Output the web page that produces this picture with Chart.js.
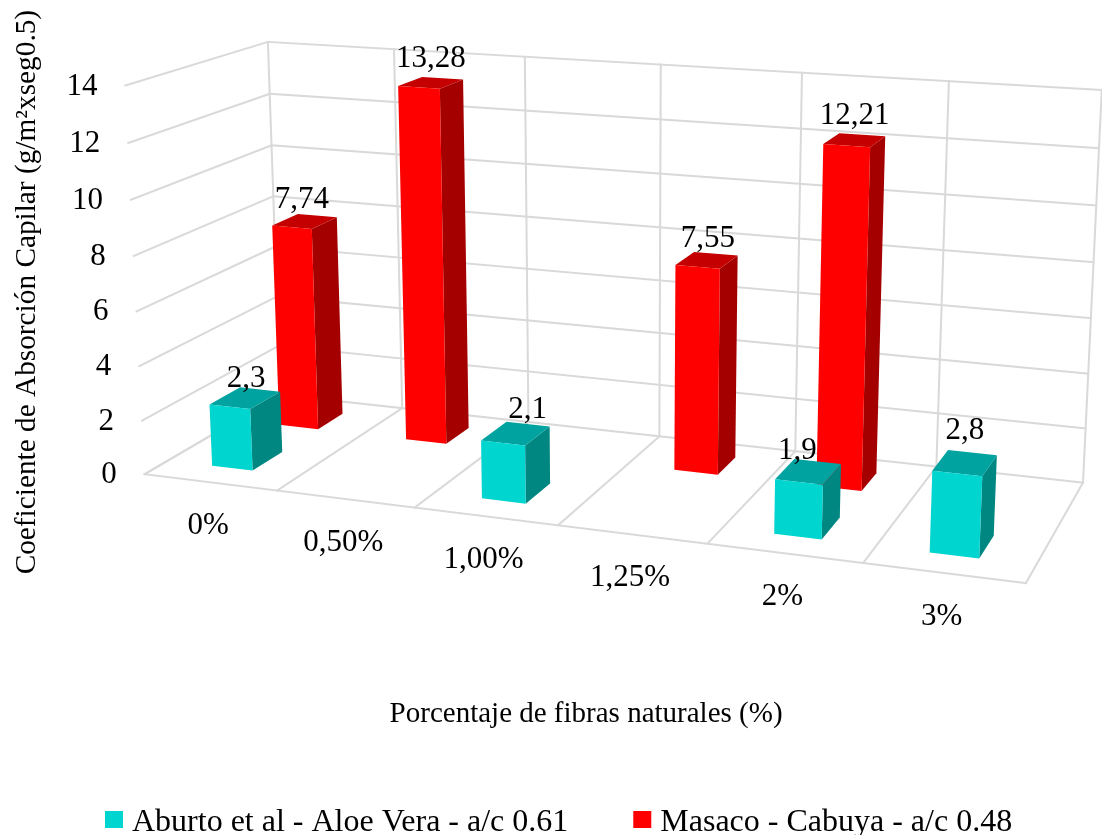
<!DOCTYPE html>
<html>
<head>
<meta charset="utf-8">
<title>Coeficiente de Absorción Capilar</title>
<script src="https://cdn.jsdelivr.net/npm/chart.js"></script>
<style>
  html, body { margin: 0; padding: 0; background: #fff; }
  #wrap { width: 1102px; height: 835px; }
</style>
</head>
<body>
<div id="wrap"><canvas id="absorcionChart"></canvas></div>
<script>
const categorias = ['0%', '0,50%', '1,00%', '1,25%', '2%', '3%'];
const aloeVera = [2.3, null, 2.1, null, 1.9, 2.8];
const cabuya = [7.74, 13.28, null, 7.55, 12.21, null];

const FONT = '"Liberation Serif", "Times New Roman", serif';
const GRID = '#D9D9D9';

// 3D box: corners of the walls on the page, [x, y, z, px, py]
// x left->right, y 0->14, z front->back (all 0..1)
const boxCorners = [
    [0, 0, 0, 145, 474],
    [1, 0, 0, 1026, 583],
    [1, 0, 1, 1083, 482.7],
    [0, 0, 1, 280, 395],
    [0, 1, 0, 125, 85.7],
    [0, 1, 1, 268.3, 41.7],
    [1, 1, 1, 1101.7, 90]
];

// where each series sits inside its cell
const rows = [
    { z0: 0.16, z1: 0.38, x0: 0.34, x1: 0.65, front: '#00D5D0', side: '#008782', top: '#00A39F' },
    { z0: 0.66, z1: 0.86, x0: 0.34, x1: 0.65, front: '#FF0000', side: '#A50000', top: '#C40000' }
];

// data labels moved by hand in the original, [dx, dy] by series and category
const labelShift = {
    '0-0': [1, 5],
    '0-2': [12, 0],
    '0-4': [-11, 3],
    '0-5': [0, -8],
    '1-0': [-3, 2],
    '1-3': [1, 3]
};

function solveProjection(points) {
    // least squares fit of the 3x4 camera matrix
    const n = 11;
    const A = [];
    for (let i = 0; i < n; i++) A.push(new Array(n + 1).fill(0));
    function addRow(r, b) {
        for (let i = 0; i < n; i++) {
            for (let j = 0; j < n; j++) A[i][j] += r[i] * r[j];
            A[i][n] += r[i] * b;
        }
    }
    points.forEach(function (p) {
        const X = p[0], Y = p[1], Z = p[2], u = p[3] / 1000, v = p[4] / 1000;
        addRow([X, Y, Z, 1, 0, 0, 0, 0, -u * X, -u * Y, -u * Z], u);
        addRow([0, 0, 0, 0, X, Y, Z, 1, -v * X, -v * Y, -v * Z], v);
    });
    for (let c = 0; c < n; c++) {
        let best = c;
        for (let r = c + 1; r < n; r++) if (Math.abs(A[r][c]) > Math.abs(A[best][c])) best = r;
        const tmp = A[c]; A[c] = A[best]; A[best] = tmp;
        for (let r = 0; r < n; r++) {
            if (r === c) continue;
            const f = A[r][c] / A[c][c];
            for (let k = c; k <= n; k++) A[r][k] -= f * A[c][k];
        }
    }
    return A.map(function (row, i) { return row[n] / row[i]; });
}

const M = solveProjection(boxCorners);

function project(x, y, z) {
    const w = M[8] * x + M[9] * y + M[10] * z + 1;
    return {
        x: 1000 * (M[0] * x + M[1] * y + M[2] * z + M[3]) / w,
        y: 1000 * (M[4] * x + M[5] * y + M[6] * z + M[7]) / w
    };
}

// scale pixels -> 0..1 box coordinates
function normY(chart, value) {
    const s = chart.scales.y;
    return (s.bottom - s.getPixelForValue(value)) / (s.bottom - s.top);
}
function normX(chart, index) {
    const s = chart.scales.x;
    return (s.getPixelForValue(index) - s.left) / (s.right - s.left);
}

function line(ctx, a, b) {
    ctx.beginPath();
    ctx.moveTo(a.x, a.y);
    ctx.lineTo(b.x, b.y);
    ctx.stroke();
}

function face(ctx, pts, color) {
    ctx.fillStyle = color;
    ctx.beginPath();
    pts.forEach(function (p, i) {
        if (i === 0) ctx.moveTo(p.x, p.y); else ctx.lineTo(p.x, p.y);
    });
    ctx.closePath();
    ctx.fill();
}

const plano3d = {
    id: 'plano3d',
    beforeDatasetsDraw(chart) {
        const ctx = chart.ctx;
        const cell = 1 / categorias.length;
        ctx.save();
        ctx.strokeStyle = GRID;
        ctx.lineWidth = 2;
        ctx.lineCap = 'square';
        chart.scales.y.ticks.forEach(function (t) {
            const y = normY(chart, t.value);
            line(ctx, project(0, y, 0), project(0, y, 1));
            line(ctx, project(0, y, 1), project(1, y, 1));
        });
        categorias.forEach(function (c, i) {
            const x = normX(chart, i) - cell / 2;
            line(ctx, project(x, 0, 0), project(x, 0, 1));
            line(ctx, project(x, 0, 1), project(x, 1, 1));
        });
        line(ctx, project(1, 0, 0), project(1, 0, 1));
        line(ctx, project(1, 0, 1), project(1, 1, 1));
        line(ctx, project(0, 0, 0), project(1, 0, 0));
        ctx.restore();
    },
    beforeDatasetDraw(chart, args) {
        // bars are drawn as boxes, not with the flat element
        const ctx = chart.ctx;
        const cell = 1 / categorias.length;
        const row = rows[args.index];
        chart.data.datasets[args.index].data.forEach(function (value, i) {
            if (value === null) return;
            const left = normX(chart, i) - cell / 2;
            const x0 = left + row.x0 * cell, x1 = left + row.x1 * cell;
            const y = normY(chart, value);
            const z0 = row.z0, z1 = row.z1;
            face(ctx, [project(x1, 0, z0), project(x1, 0, z1), project(x1, y, z1), project(x1, y, z0)], row.side);
            face(ctx, [project(x0, y, z0), project(x1, y, z0), project(x1, y, z1), project(x0, y, z1)], row.top);
            face(ctx, [project(x0, 0, z0), project(x1, 0, z0), project(x1, y, z0), project(x0, y, z0)], row.front);
        });
        return false;
    },
    afterDatasetsDraw(chart) {
        const ctx = chart.ctx;
        const cell = 1 / categorias.length;
        ctx.save();
        ctx.fillStyle = '#000';
        ctx.font = '31px ' + FONT;
        ctx.textBaseline = 'middle';

        // value axis labels
        ctx.textAlign = 'right';
        chart.scales.y.ticks.forEach(function (t) {
            const p = project(0, normY(chart, t.value), 0);
            ctx.fillText(t.label, p.x - 28, p.y + 1);
        });

        // category labels under the front edge
        ctx.textAlign = 'center';
        categorias.forEach(function (c, i) {
            const p = project(normX(chart, i), 0, 0);
            ctx.fillText(c, p.x - 2, p.y + 43.5);
        });

        // data labels
        chart.data.datasets.forEach(function (ds, d) {
            const row = rows[d];
            ds.data.forEach(function (value, i) {
                if (value === null) return;
                const left = normX(chart, i) - cell / 2;
                const p = project(left + (row.x0 + row.x1) / 2 * cell, normY(chart, value), (row.z0 + row.z1) / 2);
                const s = labelShift[d + '-' + i] || [0, 0];
                ctx.fillText(String(value).replace('.', ','), p.x + s[0], p.y - 24 + s[1]);
            });
        });

        // legend, the built in one can't get this tight box to text gap
        ctx.textAlign = 'left';
        ctx.font = '32px ' + FONT;
        let lx = 105;
        chart.data.datasets.forEach(function (ds) {
            ctx.fillStyle = ds.backgroundColor;
            ctx.fillRect(lx, 811, 18, 17);
            ctx.fillStyle = '#000';
            ctx.fillText(ds.label, lx + 27, 823);
            lx += 27 + ctx.measureText(ds.label).width + 65;
        });
        ctx.restore();
    }
};

const chartData = {
    labels: categorias,
    datasets: [
        { label: 'Aburto et al - Aloe Vera - a/c 0.61', data: aloeVera, backgroundColor: '#00D5D0' },
        { label: 'Masaco - Cabuya - a/c 0.48', data: cabuya, backgroundColor: '#FF0000' }
    ]
};

new Chart(document.getElementById('absorcionChart'), {
    type: 'bar',
    data: chartData,
    plugins: [plano3d],
    options: {
        responsive: true,
        maintainAspectRatio: false,
        animation: false,
        layout: { padding: { left: 10, right: 0, top: 0, bottom: 0 } },
        plugins: {
            tooltip: { enabled: false },
            legend: { display: false }
        },
        scales: {
            x: {
                grid: { display: false },
                border: { display: false },
                ticks: { display: false },
                title: {
                    display: true,
                    text: 'Porcentaje de fibras naturales (%)',
                    color: '#000',
                    font: { family: FONT, size: 29 },
                    padding: { top: 105, bottom: 103 }
                }
            },
            y: {
                min: 0,
                max: 14,
                grid: { display: false },
                border: { display: false },
                ticks: { display: false, stepSize: 2 },
                title: {
                    display: true,
                    text: 'Coeficiente de Absorción Capilar (g/m²xseg0.5)',
                    color: '#000',
                    font: { family: FONT, size: 29.3 },
                    padding: { top: 0, bottom: 17 }
                }
            }
        }
    }
});
</script>
</body>
</html>
